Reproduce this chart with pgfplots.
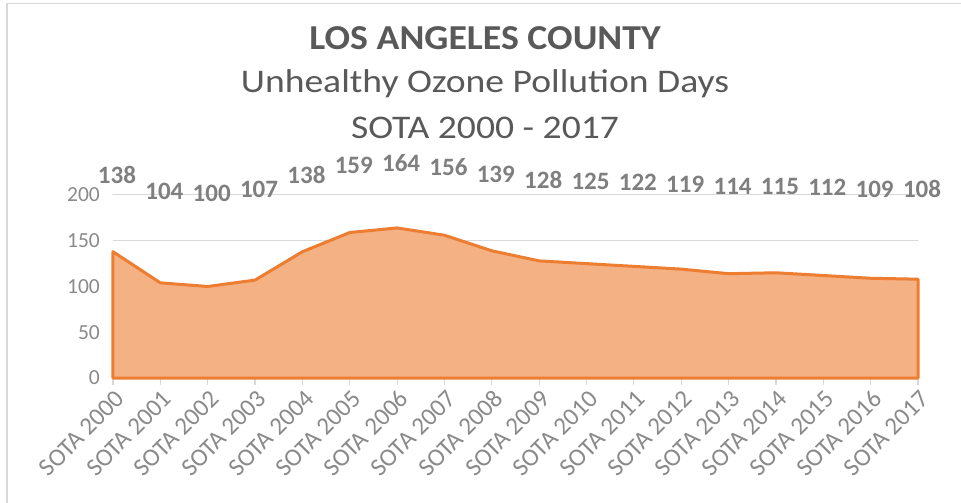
\documentclass[border=0pt]{standalone}
\usepackage{pgfplots}
\pgfplotsset{compat=1.18}
\usepackage{pgfplotstable}
\usepackage{fontspec}
\setmainfont{Carlito}
\newfontfamily\titlefont[FakeStretch=1.08]{Carlito}
\newfontfamily\subfont[FakeStretch=1.14]{Carlito}

\definecolor{areafill}{HTML}{F4B183}
\definecolor{arealine}{HTML}{ED7D31}
\definecolor{gridgray}{HTML}{D9D9D9}
\definecolor{ticktext}{HTML}{8A8A8A}
\definecolor{labeltext}{HTML}{7F7F7F}
\definecolor{titletext}{HTML}{595959}

% unhealthy ozone days per report year
\pgfplotstableread{
x y
0 138
1 104
2 100
3 107
4 138
5 159
6 164
7 156
8 139
9 128
10 125
11 122
12 119
13 114
14 115
15 112
16 109
17 108
}\ozone

\begin{document}
\begin{tikzpicture}[x=1pt,y=1pt]
% axis box lower left sits at the origin; page is 961 x 503
\useasboundingbox (-113,-125) rectangle (848,378);
\fill[white] (-113,-125) rectangle (848,378);
\draw[gridgray, line width=1.5pt] (-106,-125) -- (-106,374.5) -- (848,374.5);

\node[font=\titlefont\fontsize{35}{40}\selectfont\bfseries, text=titletext] at (372,340) {LOS ANGELES COUNTY};
\node[font=\subfont\fontsize{33}{38}\selectfont, text=titletext] at (372,294) {Unhealthy Ozone Pollution Days};
\node[font=\subfont\fontsize{33}{38}\selectfont, text=titletext] at (372,250) {SOTA 2000 - 2017};

\begin{axis}[
    anchor=south west,
    scale only axis, width=805pt, height=183pt,
    xmin=0, xmax=17, ymin=0, ymax=200,
    clip=false,
    axis line style={draw=none},
    xtick={0,...,17},
    xticklabels={SOTA 2000,SOTA 2001,SOTA 2002,SOTA 2003,SOTA 2004,SOTA 2005,SOTA 2006,SOTA 2007,SOTA 2008,SOTA 2009,SOTA 2010,SOTA 2011,SOTA 2012,SOTA 2013,SOTA 2014,SOTA 2015,SOTA 2016,SOTA 2017},
    ytick={0,50,100,150,200},
    xtick pos=bottom,
    tick align=outside,
    major tick length=7pt,
    xtick style={gridgray, line width=1.2pt},
    ytick style={draw=none},
    ymajorgrids,
    grid style={gridgray, line width=1pt},
    /pgf/number format/assume math mode=true,
    yticklabel style={font=\fontsize{21.5}{24}\selectfont, text=ticktext, inner sep=0pt, xshift=-6pt},
    xticklabel style={font=\fontsize{25}{28}\selectfont, text=ticktext, rotate=45, anchor=east, inner sep=0pt, yshift=-12pt, xshift=-2pt},
]
\draw[gridgray, line width=1.5pt] (axis cs:0,0) -- (axis cs:17,0);
\addplot[fill=areafill, draw=arealine, line width=3pt, line join=round] table[x=x, y=y] {\ozone} \closedcycle;
\addplot[draw=none, mark=none, nodes near coords, point meta=explicit,
    nodes near coords style={font=\fontsize{25}{28}\selectfont\bfseries, text=labeltext, anchor=center, xshift=4pt}]
    table[x=x, y expr=150.4+0.516*\thisrow{y}, meta=y] {\ozone};
\end{axis}
\end{tikzpicture}
\end{document}
